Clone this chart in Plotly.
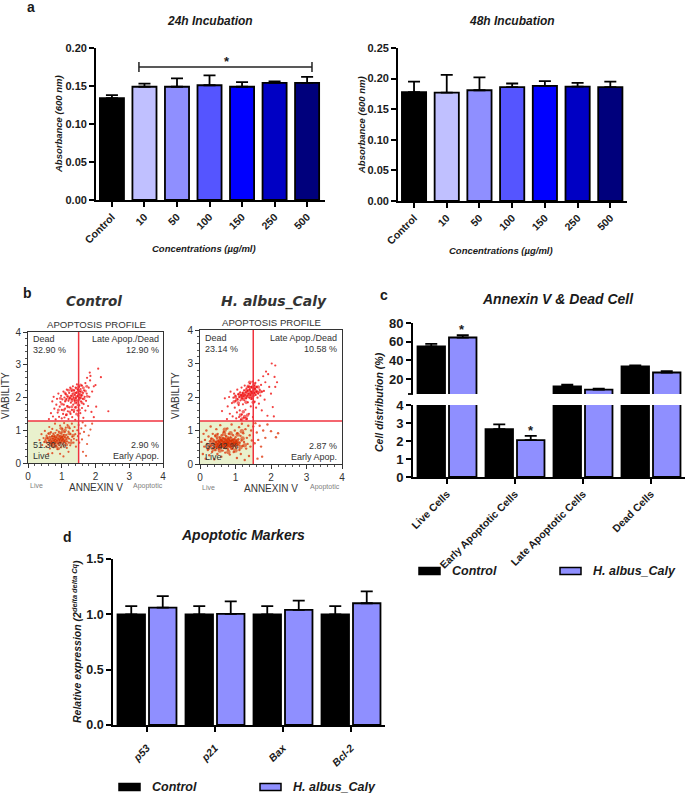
import plotly.graph_objects as go

W, H = 685, 793
FONT = "Liberation Sans"
DARK = "#1a1a1a"

# ---------------------------------------
# Data
# ---------------------------------------
conc_labels = ["Control", "10", "50", "100", "150", "250", "500"]
conc_colors = ["#000000", "#c0c0ff", "#8f8fff", "#5555ff", "#0000ff", "#0000c4", "#00007c"]
abs_24h = [0.134, 0.149, 0.149, 0.151, 0.149, 0.154, 0.154]
abs_24h_err = [0.004, 0.004, 0.011, 0.013, 0.006, 0.002, 0.008]
abs_48h = [0.178, 0.177, 0.181, 0.186, 0.188, 0.187, 0.186]
abs_48h_err = [0.017, 0.029, 0.021, 0.006, 0.008, 0.006, 0.009]

cell_labels = ["Live Cells", "Early Apoptotic Cells", "Late Apoptotic Cells", "Dead Cells"]
cell_control = [55.0, 2.66, 12.2, 33.5]
cell_control_err = [2.6, 0.26, 1.8, 1.1]
cell_caly = [64.5, 2.05, 8.6, 27.0]
cell_caly_err = [2.5, 0.24, 1.1, 1.5]

gene_labels = ["p53", "p21", "Bax", "Bcl-2"]
gene_control = [1.0, 1.0, 1.0, 1.0]
gene_control_err = [0.075, 0.075, 0.075, 0.075]
gene_caly = [1.06, 1.005, 1.04, 1.10]
gene_caly_err = [0.105, 0.112, 0.083, 0.107]

# flow cytometry dots, read by eye: (annexin, viability)
control_upper = [
    (0.62, 1.34), (0.68, 1.52), (0.74, 1.42), (0.72, 1.88), (0.76, 2.02), (0.78, 1.66), (0.82, 1.33), (0.84, 1.78),
    (0.86, 1.96), (0.88, 1.54), (0.9, 2.12), (0.92, 1.41), (0.94, 1.72), (0.96, 1.86), (0.98, 2.05), (1.0, 1.36),
    (1.0, 1.62), (1.02, 1.94), (1.04, 1.5), (1.05, 2.18), (1.06, 1.78), (1.08, 1.39), (1.08, 2.0), (1.1, 1.66),
    (1.1, 1.88), (1.12, 2.1), (1.13, 1.46), (1.14, 1.96), (1.15, 2.24), (1.16, 1.74), (1.18, 1.58), (1.18, 2.02),
    (1.2, 1.34), (1.2, 1.9), (1.22, 2.14), (1.23, 1.7), (1.24, 1.98), (1.25, 2.3), (1.26, 1.5), (1.27, 1.84),
    (1.28, 2.06), (1.29, 2.2), (1.3, 1.62), (1.3, 1.95), (1.31, 1.4), (1.32, 2.12), (1.33, 2.34), (1.34, 1.78),
    (1.35, 2.0), (1.36, 1.56), (1.37, 2.22), (1.38, 1.9), (1.39, 2.08), (1.4, 1.32), (1.4, 1.7), (1.41, 2.3),
    (1.42, 1.98), (1.43, 2.14), (1.44, 1.84), (1.45, 2.4), (1.46, 1.6), (1.47, 2.04), (1.48, 2.24), (1.49, 1.44),
    (1.5, 1.92), (1.5, 2.1), (1.51, 2.32), (1.52, 1.76), (1.53, 2.0), (1.54, 2.18), (1.55, 1.52), (1.56, 2.26),
    (1.57, 1.88), (1.58, 2.06), (1.6, 1.68), (1.6, 2.36), (1.62, 1.96), (1.63, 2.14), (1.64, 1.38), (1.65, 1.8),
    (1.66, 2.22), (1.68, 2.02), (1.7, 1.6), (1.7, 2.44), (1.72, 1.9), (1.74, 2.12), (1.75, 2.6), (1.78, 1.74),
    (1.8, 2.3), (1.82, 2.02), (1.84, 2.52), (1.85, 2.66), (1.88, 1.56), (1.9, 2.18), (1.95, 2.34), (2.0, 2.38),
    (2.08, 2.88), (2.16, 2.62), (1.83, 2.76), (2.38, 1.58), (2.02, 1.72), (1.95, 1.4),
]
control_upper_core = [
    (1.22, 1.96), (1.26, 2.02), (1.3, 1.9), (1.33, 2.06), (1.36, 1.96), (1.38, 2.14), (1.41, 1.92), (1.43, 2.02),
    (1.45, 2.16), (1.47, 1.9), (1.49, 2.06), (1.5, 2.22), (1.52, 1.96), (1.54, 2.1), (1.56, 2.0), (1.58, 2.18),
    (1.44, 2.28), (1.5, 2.34), (1.4, 1.84), (1.48, 1.78), (1.16, 2.06), (1.12, 1.92), (1.6, 2.08), (1.34, 2.22),
    (1.0, 1.8), (1.06, 1.62), (1.1, 2.14), (1.18, 1.72), (1.24, 1.56), (1.3, 1.72), (1.36, 1.62), (1.42, 1.7),
    (1.52, 1.62), (1.6, 1.84), (1.66, 1.96), (1.7, 2.2), (1.64, 2.3), (1.76, 2.04), (0.96, 1.98), (1.28, 2.26),
    (1.2, 2.22), (1.56, 2.38), (1.44, 1.5), (1.14, 1.48), (0.9, 1.62), (1.74, 2.34),
]
control_lower = [
    (0.34, 0.7), (0.4, 0.88), (0.42, 0.55), (0.46, 0.76), (0.48, 0.64), (0.5, 0.98), (0.52, 0.72), (0.54, 0.5),
    (0.55, 0.84), (0.56, 0.62), (0.58, 0.76), (0.6, 0.9), (0.6, 0.56), (0.62, 0.68), (0.63, 1.1), (0.64, 0.8),
    (0.65, 0.44), (0.66, 0.6), (0.67, 0.72), (0.68, 0.94), (0.7, 0.52), (0.7, 0.66), (0.71, 0.82), (0.72, 1.04),
    (0.73, 0.6), (0.74, 0.74), (0.75, 0.9), (0.76, 0.48), (0.77, 0.68), (0.78, 0.8), (0.79, 0.58), (0.8, 1.2),
    (0.8, 0.72), (0.81, 0.92), (0.82, 0.64), (0.83, 0.52), (0.84, 0.78), (0.85, 1.0), (0.86, 0.68), (0.87, 0.42),
    (0.88, 0.86), (0.89, 0.6), (0.9, 0.74), (0.91, 0.96), (0.92, 0.54), (0.93, 0.7), (0.94, 0.82), (0.95, 1.14),
    (0.96, 0.62), (0.97, 0.76), (0.98, 0.48), (0.99, 0.9), (1.0, 0.68), (1.01, 0.8), (1.02, 1.04), (1.03, 0.58),
    (1.04, 0.72), (1.05, 0.86), (1.06, 0.52), (1.07, 1.22), (1.08, 0.66), (1.09, 0.94), (1.1, 0.78), (1.11, 0.6),
    (1.12, 1.08), (1.13, 0.72), (1.14, 0.86), (1.15, 0.46), (1.16, 0.66), (1.17, 1.16), (1.18, 0.8), (1.2, 0.96),
    (1.21, 0.62), (1.22, 0.74), (1.24, 1.06), (1.25, 0.54), (1.26, 0.88), (1.28, 0.7), (1.3, 1.2), (1.31, 0.8),
    (1.33, 0.98), (1.35, 0.62), (1.36, 0.74), (1.38, 1.1), (1.4, 0.88), (1.42, 0.5), (1.44, 0.7), (1.46, 1.0),
    (1.48, 0.82), (1.5, 1.16), (1.52, 0.62), (1.54, 0.9), (1.58, 1.06), (1.6, 0.72), (1.63, 0.34), (1.66, 0.95),
    (1.7, 1.14), (1.75, 0.58), (1.8, 0.84), (1.62, 1.24), (1.85, 1.02), (1.9, 1.2), (1.72, 0.22), (1.2, 0.34),
    (0.95, 0.28), (0.72, 0.3), (1.05, 0.2), (0.6, 0.28),
]
control_lower_core = [
    (0.62, 0.72), (0.66, 0.66), (0.7, 0.78), (0.72, 0.64), (0.75, 0.72), (0.78, 0.62), (0.8, 0.8), (0.82, 0.68),
    (0.84, 0.74), (0.86, 0.6), (0.88, 0.84), (0.9, 0.68), (0.92, 0.76), (0.94, 0.62), (0.96, 0.7), (0.98, 0.82),
    (1.0, 0.74), (1.02, 0.64), (1.04, 0.78), (1.06, 0.7), (1.08, 0.84), (1.1, 0.66), (0.76, 0.84), (0.68, 0.58),
    (0.52, 0.66), (0.56, 0.78), (0.64, 0.9), (0.84, 0.5), (0.94, 0.92), (1.16, 0.76), (1.22, 0.9), (1.28, 0.62),
    (1.14, 0.56), (0.74, 0.54), (1.02, 0.96), (1.34, 0.84), (0.98, 1.06), (1.2, 1.1), (0.9, 0.44), (1.1, 1.0),
]
caly_upper = [
    (0.62, 1.58), (0.7, 1.96), (0.76, 1.34), (0.78, 1.72), (0.82, 2.0), (0.84, 1.5), (0.86, 2.16), (0.9, 1.82),
    (0.92, 1.42), (0.94, 1.98), (0.96, 2.1), (0.98, 1.68), (1.0, 1.88), (1.0, 2.04), (1.02, 1.36), (1.04, 1.54),
    (1.05, 2.22), (1.06, 1.94), (1.08, 2.08), (1.09, 1.76), (1.1, 1.4), (1.1, 2.0), (1.12, 1.6), (1.13, 2.14),
    (1.14, 1.9), (1.15, 1.32), (1.16, 2.06), (1.17, 2.28), (1.18, 1.48), (1.19, 1.96), (1.2, 2.12), (1.21, 1.78),
    (1.22, 2.02), (1.23, 1.38), (1.24, 2.2), (1.25, 1.9), (1.26, 2.34), (1.27, 2.06), (1.28, 1.62), (1.29, 2.14),
    (1.3, 1.96), (1.31, 2.26), (1.32, 1.34), (1.33, 2.04), (1.34, 2.18), (1.35, 1.84), (1.36, 2.3), (1.37, 2.1),
    (1.38, 1.5), (1.39, 1.98), (1.4, 2.22), (1.41, 2.4), (1.42, 2.06), (1.43, 1.72), (1.44, 2.16), (1.45, 2.3),
    (1.46, 1.94), (1.47, 2.1), (1.48, 2.46), (1.49, 1.4), (1.5, 2.2), (1.51, 2.02), (1.52, 2.34), (1.53, 2.12),
    (1.54, 1.86), (1.55, 2.24), (1.56, 2.42), (1.57, 2.06), (1.58, 1.68), (1.59, 2.16), (1.6, 2.3), (1.62, 1.98),
    (1.64, 2.1), (1.65, 2.5), (1.66, 1.8), (1.68, 2.22), (1.7, 2.04), (1.72, 2.36), (1.74, 1.6), (1.75, 2.16),
    (1.78, 2.62), (1.8, 2.18), (1.82, 1.92), (1.84, 2.44), (1.86, 2.76), (1.9, 1.44), (1.95, 2.3), (2.0, 2.1),
    (2.05, 1.7), (2.1, 2.6), (2.12, 2.3), (2.17, 2.44), (2.08, 1.42), (2.02, 3.0), (2.12, 2.94), (1.92, 2.68),
]
caly_upper_core = [
    (1.14, 2.0), (1.2, 1.94), (1.24, 2.06), (1.28, 1.98), (1.32, 2.12), (1.35, 2.02), (1.38, 2.2), (1.4, 2.08),
    (1.42, 2.28), (1.44, 2.14), (1.46, 2.02), (1.48, 2.3), (1.5, 2.14), (1.52, 2.24), (1.54, 2.08), (1.56, 2.3),
    (1.58, 2.18), (1.36, 2.32), (1.3, 2.2), (1.22, 2.12), (1.18, 2.04), (1.44, 1.96), (1.52, 2.38), (1.62, 2.14),
    (1.04, 1.92), (1.1, 2.08), (1.0, 2.0), (1.08, 1.82), (1.3, 1.84), (1.7, 2.16), (1.64, 2.3), (1.4, 2.44),
    (1.26, 1.42), (1.18, 1.34), (1.34, 1.46), (1.22, 1.56), (1.3, 1.36), (1.14, 1.46), (1.5, 1.84), (0.96, 1.86),
]
caly_lower = [
    (0.04, 0.66), (0.08, 0.3), (0.1, 0.9), (0.12, 0.52), (0.14, 0.72), (0.16, 0.16), (0.18, 1.0), (0.2, 0.6),
    (0.22, 0.42), (0.24, 0.82), (0.26, 0.26), (0.28, 0.68), (0.3, 0.54), (0.3, 1.12), (0.32, 0.76), (0.34, 0.36),
    (0.35, 0.62), (0.36, 0.9), (0.38, 0.5), (0.4, 0.7), (0.4, 0.14), (0.42, 0.58), (0.43, 0.84), (0.44, 0.42),
    (0.45, 0.66), (0.46, 1.04), (0.47, 0.52), (0.48, 0.76), (0.49, 0.3), (0.5, 0.6), (0.5, 0.9), (0.52, 0.68),
    (0.53, 0.46), (0.54, 0.56), (0.55, 0.8), (0.56, 0.64), (0.57, 1.16), (0.58, 0.5), (0.59, 0.72), (0.6, 0.22),
    (0.6, 0.6), (0.61, 0.86), (0.62, 0.54), (0.63, 0.68), (0.64, 0.4), (0.65, 0.62), (0.66, 0.78), (0.67, 0.96),
    (0.68, 0.5), (0.69, 0.66), (0.7, 0.56), (0.7, 0.74), (0.71, 0.34), (0.72, 0.62), (0.73, 0.84), (0.74, 0.48),
    (0.75, 0.7), (0.76, 0.58), (0.77, 1.06), (0.78, 0.64), (0.79, 0.44), (0.8, 0.76), (0.8, 0.54), (0.81, 0.9),
    (0.82, 0.62), (0.83, 0.7), (0.84, 0.28), (0.85, 0.52), (0.86, 0.8), (0.87, 0.6), (0.88, 0.68), (0.89, 1.18),
    (0.9, 0.46), (0.91, 0.72), (0.92, 0.58), (0.93, 0.86), (0.94, 0.64), (0.95, 0.36), (0.96, 0.74), (0.97, 0.54),
    (0.98, 1.0), (0.99, 0.62), (1.0, 0.8), (1.02, 0.5), (1.03, 0.68), (1.04, 0.18), (1.05, 0.92), (1.06, 0.58),
    (1.08, 0.74), (1.1, 1.1), (1.11, 0.42), (1.12, 0.64), (1.14, 0.84), (1.15, 0.3), (1.17, 0.7), (1.18, 1.2),
    (1.2, 0.54), (1.22, 0.92), (1.24, 0.66), (1.26, 0.12), (1.28, 1.04), (1.3, 0.46), (1.32, 0.78), (1.34, 0.6),
    (1.36, 1.14), (1.38, 0.24), (1.4, 0.86), (1.42, 0.52), (1.44, 1.0), (1.46, 0.7), (1.5, 1.12), (1.54, 0.62),
    (1.56, 1.22), (1.6, 0.94), (1.64, 0.72), (1.68, 1.14), (1.72, 0.52), (1.78, 1.0), (1.84, 0.78), (1.9, 1.18),
    (2.0, 0.98), (2.14, 0.8), (2.2, 0.92), (1.75, 0.22), (1.62, 0.16),
]
caly_lower_core = [
    (0.42, 0.62), (0.46, 0.54), (0.5, 0.66), (0.53, 0.58), (0.56, 0.7), (0.59, 0.52), (0.62, 0.64), (0.65, 0.56),
    (0.67, 0.72), (0.7, 0.6), (0.72, 0.5), (0.74, 0.66), (0.77, 0.58), (0.79, 0.7), (0.82, 0.54), (0.84, 0.64),
    (0.87, 0.74), (0.89, 0.56), (0.92, 0.66), (0.95, 0.58), (0.98, 0.7), (1.01, 0.6), (1.04, 0.68), (1.08, 0.6),
    (0.6, 0.76), (0.76, 0.78), (0.5, 0.5), (0.9, 0.48), (0.3, 0.58), (0.34, 0.72), (0.38, 0.44), (0.46, 0.84),
    (0.56, 0.4), (0.68, 0.9), (0.8, 0.36), (0.86, 0.92), (1.0, 0.4), (1.06, 0.88), (1.14, 0.5), (1.2, 0.76),
    (1.26, 0.56), (0.24, 0.48), (1.18, 0.98), (0.7, 1.02),
]


# ---------------------------------------
# Helpers
# ---------------------------------------
def px(x):
    return x / W


def py(y):
    return 1 - y / H


def text(x, y, s, size=10, color=DARK, bold=False, italic=False, family=FONT, angle=0, xanchor="center"):
    return dict(
        text=s, x=px(x), y=py(y), xref="paper", yref="paper", showarrow=False,
        xanchor=xanchor, yanchor="middle", textangle=angle,
        font=dict(family=family, size=size, color=color, weight=700 if bold else 400,
                  style="italic" if italic else "normal"),
    )


def bar_x_axis(left, right, lo, hi, labels, anchor, size, italic=False, standoff=0):
    axis = dict(
        domain=[px(left), px(right)], range=[lo, hi], anchor=anchor, showgrid=False, zeroline=False,
        showline=True, linecolor="black", linewidth=1.8, ticks="outside", ticklen=5, tickwidth=1.8,
        tickcolor="black", tickmode="array", tickvals=list(range(len(labels))), ticktext=labels,
        tickangle=-45, ticklabelstandoff=standoff,
        tickfont=dict(family=FONT, size=size, color=DARK, weight=700, style="italic" if italic else "normal"),
    )
    return axis


def bar_y_axis(top, bottom, lo, hi, anchor, size, **kw):
    axis = dict(
        domain=[py(bottom), py(top)], range=[lo, hi], anchor=anchor, showgrid=False, zeroline=False,
        showline=True, linecolor="black", linewidth=1.8, ticks="outside", ticklen=5, tickwidth=1.8,
        tickcolor="black", tickfont=dict(family=FONT, size=size, color=DARK, weight=700),
    )
    axis.update(kw)
    return axis


def flow_axis(start, end, anchor, is_y=False):
    return dict(
        domain=[py(end), py(start)] if is_y else [px(start), px(end)],
        range=[0, 4], anchor=anchor, showgrid=False, zeroline=False, showline=True, mirror=True,
        linecolor="#333333", linewidth=1, ticks="outside", ticklen=4, tickwidth=1, tickcolor="#333333",
        tickvals=[0, 1, 2, 3, 4], tickfont=dict(family=FONT, size=10, color="#333333"),
        minor=dict(ticks="outside", ticklen=2, tickwidth=0.5, tickcolor="#555555", dtick=0.2),
    )


def err(values):
    return dict(type="data", array=values, arrayminus=[0] * len(values), symmetric=False,
                color="black", thickness=1.8, width=6)


def conc_bars(values, errors, xa, ya):
    return go.Bar(x=list(range(len(values))), y=values, width=0.74, error_y=err(errors), xaxis=xa, yaxis=ya,
                  marker=dict(color=conc_colors, line=dict(color="black", width=1.8)), showlegend=False)


def group_bars(values, errors, color, name, xa, ya):
    return go.Bar(x=list(range(len(values))), y=values, name=name, error_y=err(errors), xaxis=xa, yaxis=ya,
                  marker=dict(color=color, line=dict(color="black", width=1.8)), showlegend=False)


def dots(points, color, size, xa, ya, opacity=0.8):
    return go.Scatter(x=[p[0] for p in points], y=[p[1] for p in points], mode="markers", xaxis=xa, yaxis=ya,
                      marker=dict(color=color, size=size, opacity=opacity, line=dict(width=0)), showlegend=False)


def quadrant_shapes(xa, ya):
    ref = dict(xref=xa, yref=ya)
    return [
        dict(type="rect", x0=0, x1=1.5, y0=0, y1=1.28, fillcolor="#e9f1cd", line=dict(width=0), layer="below", **ref),
        dict(type="line", x0=1.5, x1=1.5, y0=0, y1=4, line=dict(color="#f0333f", width=1.5), **ref),
        dict(type="line", x0=0, x1=4, y0=1.28, y1=1.28, line=dict(color="#f0333f", width=1.5), **ref),
    ]


def legend_parts(y, x1, x2):
    shapes = []
    notes = []
    for x, color, name in [(x1, "#000000", "Control"), (x2, "#8f8fff", "H. albus_Caly")]:
        shapes.append(dict(type="rect", xref="paper", yref="paper", x0=px(x), x1=px(x + 21), y0=py(y + 3.5), y1=py(y - 3.5),
                           fillcolor=color, line=dict(color="black", width=1.5)))
        notes.append(text(x + 31, y, name, size=12.5, bold=True, italic=True, xanchor="left"))
    return shapes, notes


# ---------------------------------------
# Figure
# ---------------------------------------
fig = go.Figure()

fig.add_trace(conc_bars(abs_24h, abs_24h_err, "x", "y"))
fig.add_trace(conc_bars(abs_48h, abs_48h_err, "x2", "y2"))

fig.add_trace(dots(control_lower, "#e03a10", 2.2, "x3", "y3"))
fig.add_trace(dots(control_upper, "#f01010", 2.2, "x3", "y3"))
fig.add_trace(dots(control_lower_core, "#d83000", 3.4, "x3", "y3", opacity=0.6))
fig.add_trace(dots(control_upper_core, "#ee0a0a", 3, "x3", "y3", opacity=0.6))
fig.add_trace(dots(caly_lower, "#e03a10", 2.4, "x4", "y4"))
fig.add_trace(dots(caly_upper, "#f01010", 2.2, "x4", "y4"))
fig.add_trace(dots(caly_lower_core, "#d83000", 4.5, "x4", "y4", opacity=0.6))
fig.add_trace(dots(caly_upper_core, "#ee0a0a", 3.6, "x4", "y4", opacity=0.6))

fig.add_trace(group_bars(cell_control, cell_control_err, "#000000", "Control", "x5", "y5"))
fig.add_trace(group_bars(cell_caly, cell_caly_err, "#8f8fff", "H. albus_Caly", "x5", "y5"))
fig.add_trace(group_bars(cell_control, cell_control_err, "#000000", "Control", "x6", "y6"))
fig.add_trace(group_bars(cell_caly, cell_caly_err, "#8f8fff", "H. albus_Caly", "x6", "y6"))

fig.add_trace(group_bars(gene_control, gene_control_err, "#000000", "Control", "x7", "y7"))
fig.add_trace(group_bars(gene_caly, gene_caly_err, "#8f8fff", "H. albus_Caly", "x7", "y7"))

shapes = []
shapes += quadrant_shapes("x3", "y3")
shapes += quadrant_shapes("x4", "y4")
# significance bracket over the 24h bars
shapes += [
    dict(type="line", xref="x", yref="y", x0=0.83, x1=6.15, y0=0.175, y1=0.175, line=dict(color="#222222", width=1.5)),
    dict(type="line", xref="x", yref="y", x0=0.83, x1=0.83, y0=0.1685, y1=0.1815, line=dict(color="#222222", width=1.5)),
    dict(type="line", xref="x", yref="y", x0=6.15, x1=6.15, y0=0.1685, y1=0.1815, line=dict(color="#222222", width=1.5)),
]
# tick at the break of the panel c axis
shapes.append(dict(type="line", xref="paper", yref="paper", x0=px(408), x1=px(413), y0=py(394), y1=py(394),
                   line=dict(color="black", width=1.8)))

star_font = dict(family=FONT, size=13, color=DARK, weight=700)

notes = [
    text(31, 7, "a", size=14, bold=True),
    text(210, 21, "24h Incubation", size=12, bold=True, italic=True),
    text(512, 21, "48h Incubation", size=12, bold=True, italic=True),
    text(204, 249, "Concentrations (µg/ml)", size=9.5, bold=True, italic=True),
    text(501, 250, "Concentrations (µg/ml)", size=9.5, bold=True, italic=True),
    text(59, 124, "Absorbance (600 nm)", size=9.5, bold=True, italic=True, angle=-90),
    text(361, 125, "Absorbance (600 nm)", size=9.5, bold=True, italic=True, angle=-90),
    dict(text="*", x=3.54, y=0.182, xref="x", yref="y", showarrow=False, font=star_font),

    text(27, 293, "b", size=14, bold=True),
    text(94, 301, "Control", size=13.5, bold=True, italic=True, family="DejaVu Sans", color="#333333"),
    text(274, 301, "H. albus_Caly", size=14, bold=True, italic=True, family="DejaVu Sans", color="#333333"),
    text(96, 324, "APOPTOSIS PROFILE", size=9.6, color="#333333"),
    text(271, 322, "APOPTOSIS PROFILE", size=9.6, color="#333333"),
    text(5, 396, "VIABILITY", size=10, color="#333333", angle=-90),
    text(175, 396, "VIABILITY", size=10, color="#333333", angle=-90),
    text(96, 487, "ANNEXIN V", size=10, color="#333333"),
    text(271, 488, "ANNEXIN V", size=10, color="#333333"),
    text(36, 486, "Live", size=7, color="#808080"),
    text(148, 486, "Apoptotic", size=7, color="#808080"),
    text(208, 487, "Live", size=7, color="#808080"),
    text(325, 487, "Apoptotic", size=7, color="#808080"),

    text(31, 339, "Dead", size=9, color="#333333", xanchor="left"),
    text(31, 350, "32.90 %", size=9, color="#333333", xanchor="left"),
    text(161, 339, "Late Apop./Dead", size=9, color="#333333", xanchor="right"),
    text(161, 350, "12.90 %", size=9, color="#333333", xanchor="right"),
    text(31, 445, "51.30 %", size=9, color="#333333", xanchor="left"),
    text(31, 456, "Live", size=9, color="#333333", xanchor="left"),
    text(161, 445, "2.90 %", size=9, color="#333333", xanchor="right"),
    text(161, 456, "Early Apop.", size=9, color="#333333", xanchor="right"),

    text(203, 338, "Dead", size=9, color="#333333", xanchor="left"),
    text(203, 349, "23.14 %", size=9, color="#333333", xanchor="left"),
    text(339, 338, "Late Apop./Dead", size=9, color="#333333", xanchor="right"),
    text(339, 349, "10.58 %", size=9, color="#333333", xanchor="right"),
    text(203, 446, "63.42 %", size=9, color="#333333", xanchor="left"),
    text(203, 457, "Live", size=9, color="#333333", xanchor="left"),
    text(339, 446, "2.87 %", size=9, color="#333333", xanchor="right"),
    text(339, 457, "Early Apop.", size=9, color="#333333", xanchor="right"),

    text(384, 295, "c", size=14, bold=True),
    text(558, 299, "Annexin V & Dead Cell", size=14, bold=True, italic=True),
    text(379, 402, "Cell distribution (%)", size=10.5, bold=True, italic=True, angle=-90),
    dict(text="*", x=0.22, y=73, xref="x5", yref="y5", showarrow=False, font=star_font),
    dict(text="*", x=1.23, y=2.6, xref="x6", yref="y6", showarrow=False, font=star_font),

    text(67, 537, "d", size=14, bold=True),
    text(243, 535, "Apoptotic Markers", size=14, bold=True, italic=True),
    text(76, 642, "Relative expression (2<sup>delta delta Cq</sup>)", size=10.5, bold=True, italic=True, angle=-90),
]

legend_c_shapes, legend_c_notes = legend_parts(571, 419, 560)
legend_d_shapes, legend_d_notes = legend_parts(787, 119, 260)
shapes += legend_c_shapes + legend_d_shapes
notes += legend_c_notes + legend_d_notes

fig.update_layout(
    template="none",
    width=W, height=H, autosize=False,
    margin=dict(l=0, r=0, t=0, b=0, pad=0, autoexpand=False),
    paper_bgcolor="white", plot_bgcolor="white",
    barmode="group", bargap=0.074, bargroupgap=0.127,
    showlegend=False, shapes=shapes, annotations=notes,

    xaxis=bar_x_axis(96, 325, -0.49, 6.55, conc_labels, "y", 10.5),
    yaxis=bar_y_axis(48, 200, 0, 0.2, "x", 11, tickvals=[0, 0.05, 0.1, 0.15, 0.2], tickformat=".2f"),
    xaxis2=bar_x_axis(398, 627, -0.49, 6.51, conc_labels, "y2", 10.5),
    yaxis2=bar_y_axis(48, 201, 0, 0.25, "x2", 11, tickvals=[0, 0.05, 0.1, 0.15, 0.2, 0.25], tickformat=".2f"),

    xaxis3=flow_axis(28, 163, "y3"),
    yaxis3=flow_axis(332, 463, "x3", is_y=True),
    xaxis4=flow_axis(200, 342, "y4"),
    yaxis4=flow_axis(330, 464, "x4", is_y=True),

    xaxis5=dict(domain=[px(413), px(685)], range=[-0.5, 3.5], anchor="y5", visible=False),
    yaxis5=bar_y_axis(323, 394, 4, 80, "x5", 13, tickvals=[20, 40, 60, 80]),
    xaxis6=bar_x_axis(413, 685, -0.5, 3.5, cell_labels, "y6", 10.5),
    yaxis6=bar_y_axis(405, 477, 0, 4, "x6", 13, tickvals=[0, 1, 2, 3, 4]),

    xaxis7=bar_x_axis(113, 385, -0.5, 3.5, gene_labels, "y7", 10.5, italic=True, standoff=6),
    yaxis7=bar_y_axis(559, 725, 0, 1.5, "x7", 12.5, tickvals=[0, 0.5, 1, 1.5], tickformat=".1f"),
)

fig.write_html("out.html", config={"displayModeBar": False}, post_script="document.body.style.margin='0';")
